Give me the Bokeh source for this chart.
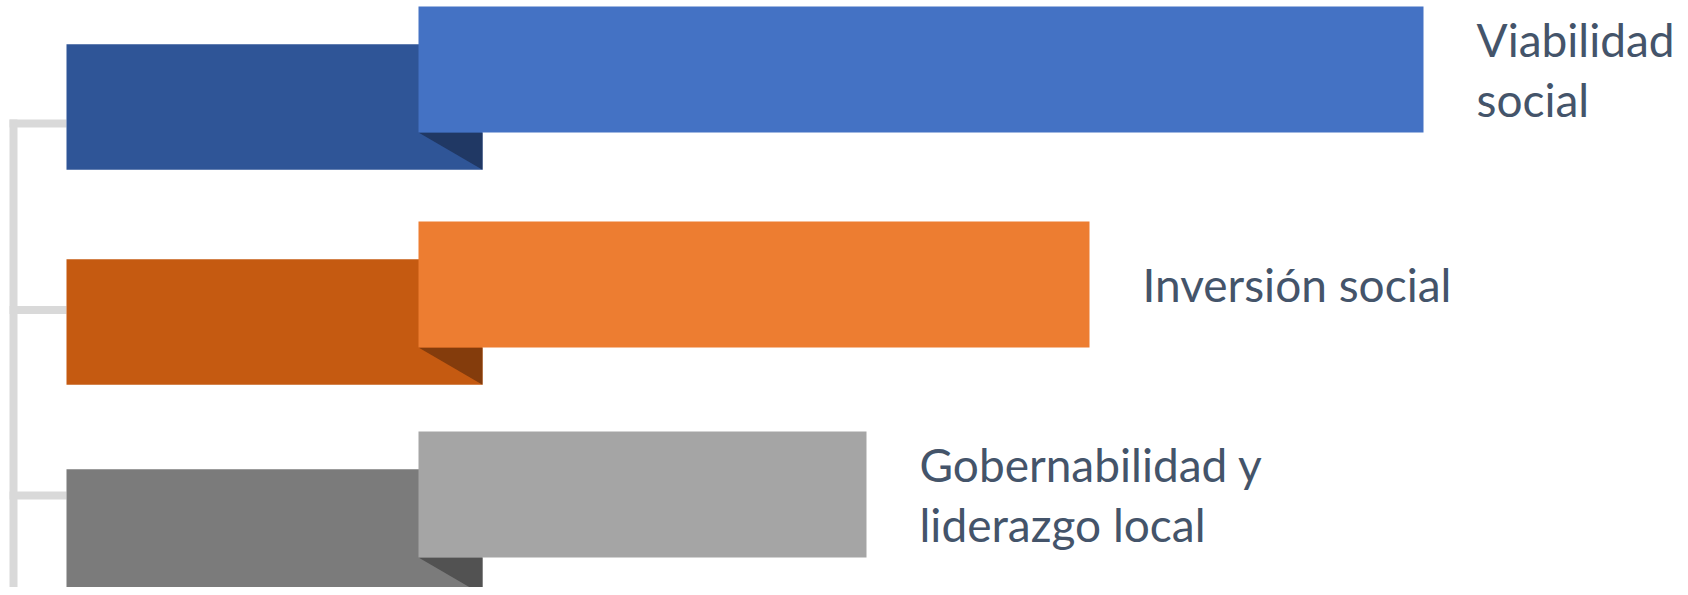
from bokeh.plotting import figure
from bokeh.models import Range1d, ColumnDataSource
from bokeh.core.properties import value
from bokeh.embed import file_html
from bokeh.resources import INLINE

# ---- data ----
categories = ["Viabilidad\nsocial", "Inversión social", "Gobernabilidad y\nliderazgo local"]
values = [1005, 671, 448]          # length of the front (light) bars
front_colors = ["#4472C4", "#ED7D31", "#A5A5A5"]
back_colors = ["#2F5597", "#C55A11", "#7B7B7B"]
fold_colors = ["#203864", "#843C0C", "#525252"]

# ---- layout constants (pixel-like data units) ----
row_y = [69, 284, 494]             # centres of front bars
bar_h = 126
back_left, back_right = -352, 64
back_dy, back_h = 37.5, 125.5
conn_x, conn_w = -405, 8
conn_y = [123, 309.5, 495]
conn_top = 119
label_gap = 53

W, H = 1680, 587
X0 = -418
p = figure(width=W, height=H, x_range=Range1d(X0, X0 + W), y_range=Range1d(H, 0),
           output_backend="svg", toolbar_location=None, min_border=0,
           outline_line_color=None, background_fill_color="white")
p.axis.visible = False
p.grid.visible = False

# connector lines
p.quad(left=[conn_x - conn_w / 2], right=[conn_x + conn_w / 2], top=[conn_top], bottom=[600],
       color="#D9D9D9", line_color=None)
p.quad(left=[conn_x - conn_w / 2] * 3, right=[back_left] * 3,
       top=[y - conn_w / 2 for y in conn_y], bottom=[y + conn_w / 2 for y in conn_y],
       color="#D9D9D9", line_color=None)

# back bars
back_c = [y + back_dy for y in row_y]
p.quad(left=[back_left] * 3, right=[back_right] * 3,
       top=[c - back_h / 2 for c in back_c], bottom=[c + back_h / 2 for c in back_c],
       color=back_colors, line_color=None)

# folds
xs, ys = [], []
for y, c in zip(row_y, back_c):
    fb = y + bar_h / 2
    xs.append([0, back_right, back_right])
    ys.append([fb, fb, c + back_h / 2])
p.patches(xs, ys, color=fold_colors, line_color=None)

# front bars
src = ColumnDataSource(dict(y=row_y, right=values, color=front_colors, label=categories,
                            lx=[v + label_gap for v in values]))
p.hbar(y="y", left=0, right="right", height=bar_h, color="color", line_color=None, source=src)

p.text(x="lx", y="y", text="label", source=src, text_font=value("Lato"),
       text_font_size="46px", text_color="#44546A", text_baseline="middle",
       text_align="left", text_line_height=1.09)

open("out.html", "w").write(file_html(p, INLINE))
